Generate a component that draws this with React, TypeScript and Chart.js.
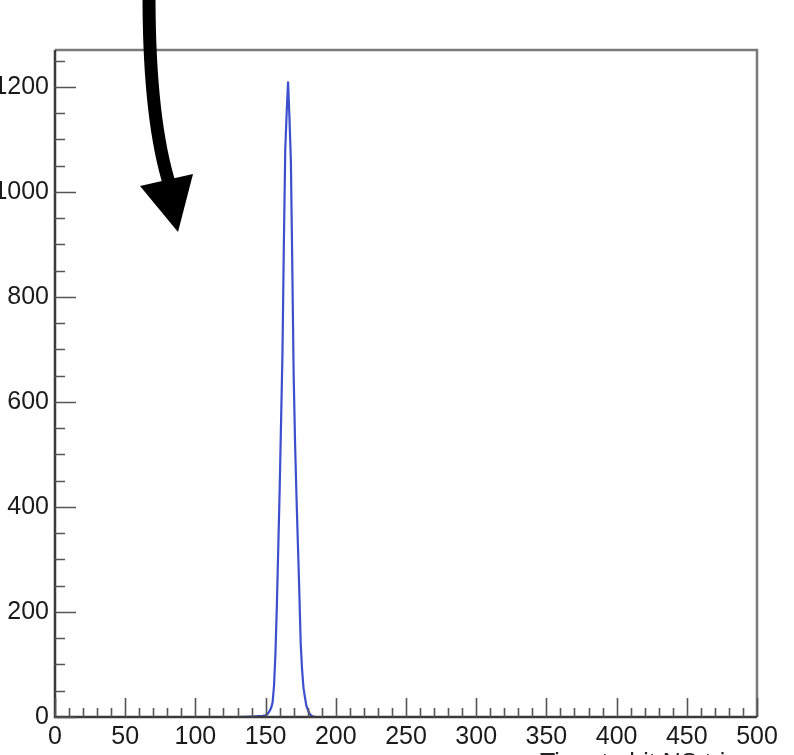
import React, { useEffect, useRef } from "react";
import { Chart, registerables } from "chart.js";

Chart.register(...registerables);

// Histogram data (bin centre, counts)
const binCenters = [
  0, 130, 140, 148, 150, 151, 152, 153, 154, 155, 156, 157, 158, 159, 160, 161,
  162, 163, 164, 165, 166, 167, 168, 169, 170, 171, 172, 173, 174, 175, 176,
  177, 178, 179, 180, 181, 182, 183, 184, 186, 190, 500,
];
const counts = [
  0, 0, 1, 2, 3, 5, 8, 12, 18, 28, 60, 120, 210, 320, 430, 560,
  690, 900, 1080, 1150, 1210, 1140, 1060, 860, 650, 520, 420, 330, 240, 140, 90,
  55, 38, 22, 14, 8, 4, 2, 1, 0, 0, 0,
];

const xMajorTicks = [0, 50, 100, 150, 200, 250, 300, 350, 400, 450, 500];
const yMajorTicks = [0, 200, 400, 600, 800, 1000, 1200];
const xMinorStep = 10;
const yMinorStep = 50;
const X_MIN = 0;
const X_MAX = 500;
const Y_MIN = 0;
const Y_MAX = 1270;
const xTitle = "Time to hit NS trig";

const FONT = "'Liberation Sans', Arial, Helvetica, sans-serif";

const decorPlugin = {
  id: "decor",
  afterDraw(chart: any) {
    const ctx = chart.ctx as CanvasRenderingContext2D;
    const { left, right, top, bottom } = chart.chartArea;
    const xs = chart.scales.x;
    const ys = chart.scales.y;
    ctx.save();

    // frame: top & right lighter grey
    ctx.strokeStyle = "#7a7a7a";
    ctx.lineWidth = 2.5;
    ctx.beginPath();
    ctx.moveTo(left, top);
    ctx.lineTo(right, top);
    ctx.lineTo(right, bottom);
    ctx.stroke();
    // axes: left & bottom darker
    ctx.strokeStyle = "#3a3a3a";
    ctx.lineWidth = 2.5;
    ctx.beginPath();
    ctx.moveTo(left, top);
    ctx.lineTo(left, bottom);
    ctx.lineTo(right, bottom);
    ctx.stroke();

    // ticks
    ctx.strokeStyle = "#555";
    ctx.lineWidth = 1.6;
    ctx.beginPath();
    for (let v = X_MIN; v <= X_MAX; v += xMinorStep) {
      const px = Math.round(xs.getPixelForValue(v)) + 0.5;
      const major = xMajorTicks.includes(v);
      const len = major ? 19 : 9;
      ctx.moveTo(px, bottom);
      ctx.lineTo(px, bottom - len);
    }
    for (let v = Y_MIN; v <= Y_MAX; v += yMinorStep) {
      const py = Math.round(ys.getPixelForValue(v)) + 0.5;
      const major = yMajorTicks.includes(v);
      const len = major ? 21 : 10;
      ctx.moveTo(left, py);
      ctx.lineTo(left + len, py);
    }
    ctx.stroke();

    // partially visible axis title at bottom right
    ctx.fillStyle = "#222";
    ctx.font = `25px ${FONT}`;
    ctx.textAlign = "left";
    ctx.textBaseline = "alphabetic";
    ctx.fillText(xTitle, 540, 771);

    // thick black curved arrow
    ctx.strokeStyle = "#000";
    ctx.lineWidth = 13;
    ctx.lineCap = "butt";
    ctx.beginPath();
    ctx.moveTo(149, -5);
    ctx.quadraticCurveTo(149, 120, 170, 186);
    ctx.stroke();
    ctx.fillStyle = "#000";
    ctx.beginPath();
    ctx.moveTo(140, 186);
    ctx.lineTo(193, 174);
    ctx.lineTo(178, 232);
    ctx.closePath();
    ctx.fill();

    ctx.restore();
  },
};

export default function App() {
  const ref = useRef<HTMLCanvasElement | null>(null);

  useEffect(() => {
    if (!ref.current) return;
    const data = binCenters.map((x, i) => ({ x, y: counts[i] }));
    const chart = new Chart(ref.current, {
      type: "line",
      data: {
        datasets: [
          {
            data,
            borderColor: "rgb(60, 80, 205)",
            borderWidth: 2.2,
            pointRadius: 0,
            tension: 0,
            fill: false,
          },
        ],
      },
      options: {
        responsive: false,
        animation: false,
        layout: { padding: { top: 50, right: 37, left: 0, bottom: 0 } },
        plugins: {
          legend: { display: false },
          tooltip: { enabled: false },
        },
        scales: {
          x: {
            type: "linear",
            min: X_MIN,
            max: X_MAX,
            grid: { display: false, drawTicks: false },
            border: { display: false },
            ticks: {
              stepSize: 50,
              padding: 5,
              color: "#1a1a1a",
              font: { family: FONT, size: 25 },
              maxRotation: 0,
              autoSkip: false,
              callback: (v: any) => String(v),
            },
            afterBuildTicks: (scale: any) => {
              scale.ticks = xMajorTicks.map((v) => ({ value: v }));
            },
            afterFit: (scale: any) => {
              scale.height = 38;
            },
          },
          y: {
            type: "linear",
            min: Y_MIN,
            max: Y_MAX,
            grid: { display: false, drawTicks: false },
            border: { display: false },
            ticks: {
              stepSize: 200,
              padding: 6,
              color: "#1a1a1a",
              font: { family: FONT, size: 25 },
              autoSkip: false,
              callback: (v: any) => String(v),
            },
            afterBuildTicks: (scale: any) => {
              scale.ticks = yMajorTicks.map((v) => ({ value: v }));
            },
            afterFit: (scale: any) => {
              scale.width = 55;
            },
          },
        },
      },
      plugins: [decorPlugin],
    });
    return () => chart.destroy();
  }, []);

  return (
    <div style={{ position: "absolute", left: 0, top: 0, width: 794, height: 755, background: "#fff" }}>
      <canvas ref={ref} width={794} height={755} />
    </div>
  );
}
